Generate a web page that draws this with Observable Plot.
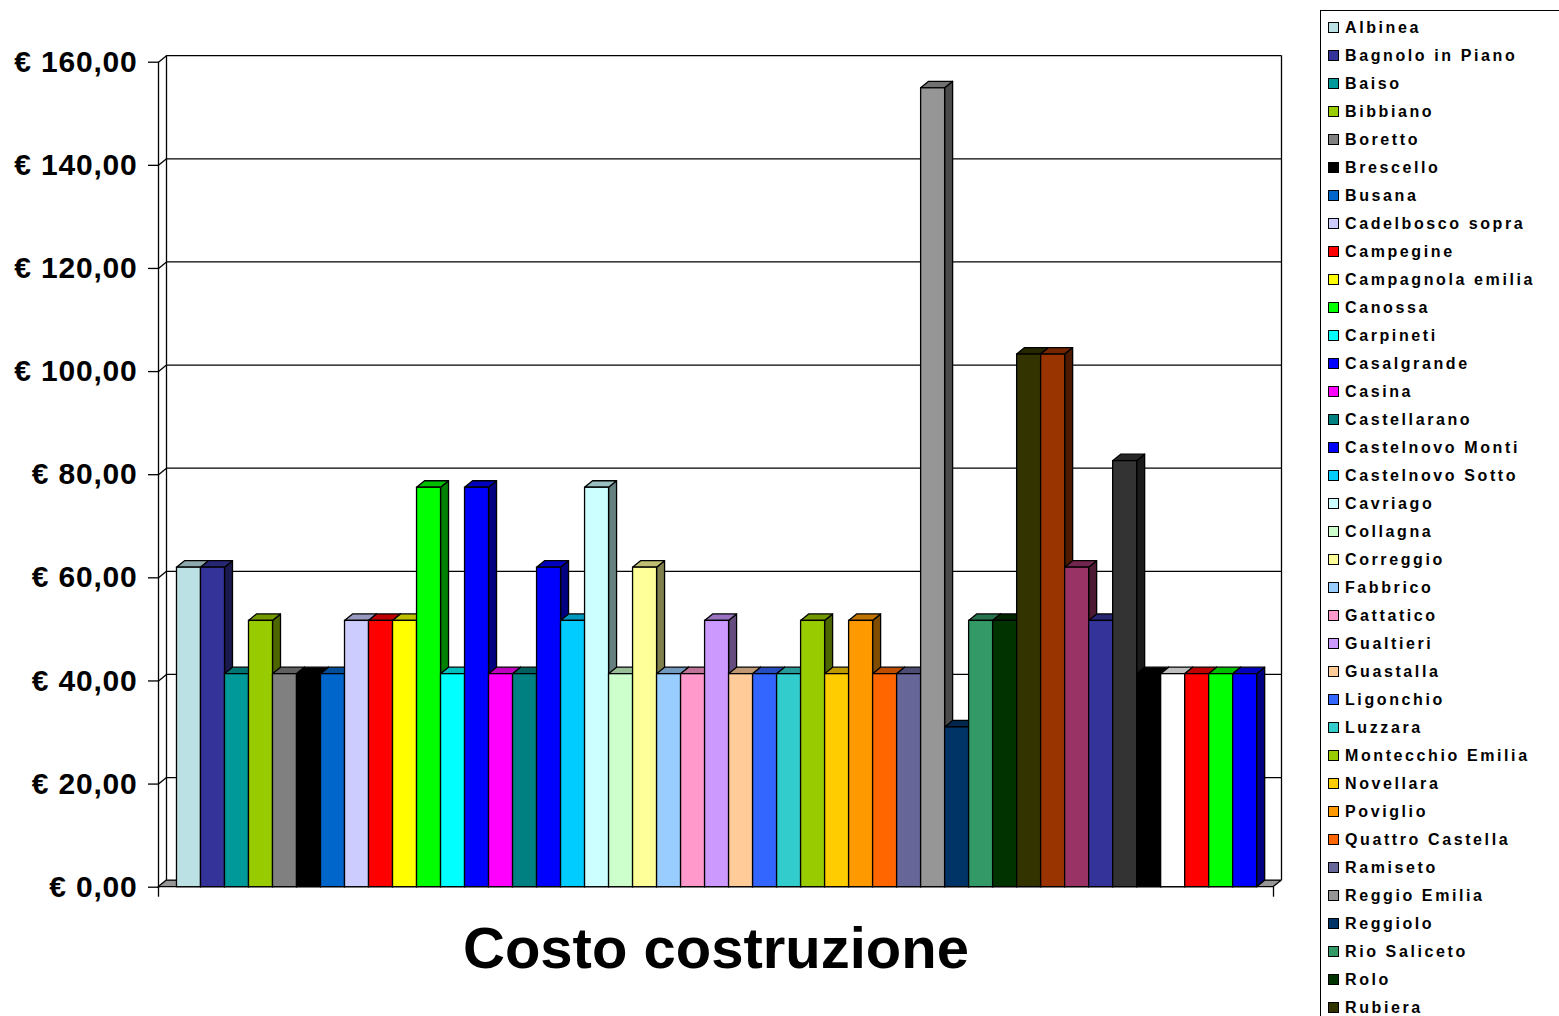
<!DOCTYPE html>
<html>
<head>
<meta charset="utf-8">
<script src="https://cdn.jsdelivr.net/npm/d3@7"></script>
<script src="https://cdn.jsdelivr.net/npm/@observablehq/plot@0.6"></script>
<style>
  html, body { margin: 0; padding: 0; background: #fff; overflow: hidden; }
  #chart { position: absolute; left: 0; top: 0; }
  #legend {
    position: absolute; left: 1320px; top: 10px; width: 300px; height: 1400px;
    border-left: 1.5px solid #000; border-top: 1.5px solid #000;
    font-family: "Liberation Sans", Arial, sans-serif; font-weight: bold;
    font-size: 16px; letter-spacing: 2.6px; color: #000;
  }
  .item { position: absolute; left: 7px; height: 20px; display: flex; align-items: center; white-space: nowrap; }
  .sw { width: 9px; height: 9px; border: 1px solid #000; margin-right: 6px; flex: none; }
  #chart svg [aria-label="y-axis tick label"] text { letter-spacing: 0.8px; font-weight: bold; }
</style>
</head>
<body>
<div id="chart"></div>
<div id="legend"></div>
<script>
const categories = [
  "Albinea", "Bagnolo in Piano", "Baiso", "Bibbiano", "Boretto", "Brescello", "Busana",
  "Cadelbosco sopra", "Campegine", "Campagnola emilia", "Canossa", "Carpineti", "Casalgrande",
  "Casina", "Castellarano", "Castelnovo Monti", "Castelnovo Sotto", "Cavriago", "Collagna",
  "Correggio", "Fabbrico", "Gattatico", "Gualtieri", "Guastalla", "Ligonchio", "Luzzara",
  "Montecchio Emilia", "Novellara", "Poviglio", "Quattro Castella", "Ramiseto", "Reggio Emilia",
  "Reggiolo", "Rio Saliceto", "Rolo", "Rubiera", "San Martino in Rio", "San Polo d'Enza",
  "Sant'Ilario d'Enza", "Scandiano", "Toano", "Vetto", "Vezzano sul Crostolo", "Viano", "Villa Minozzo"
];
const values = [
  61.97, 61.97, 41.32, 51.65, 41.32, 41.32, 41.32,
  51.65, 51.65, 51.65, 77.47, 41.32, 77.47,
  41.32, 41.32, 61.97, 51.65, 77.47, 41.32,
  61.97, 41.32, 41.32, 51.65, 41.32, 41.32, 41.32,
  51.65, 41.32, 51.65, 41.32, 41.32, 154.94,
  30.99, 51.65, 51.65, 103.29, 103.29, 61.97,
  51.65, 82.63, 41.32, 41.32, 41.32, 41.32, 41.32
];
const colors = [
  "#BCE1E4", "#333399", "#009999", "#99CC00", "#808080", "#000000", "#0066CC",
  "#CCCCFF", "#FF0000", "#FFFF00", "#00FF00", "#00FFFF", "#0000FF",
  "#FF00FF", "#008080", "#0000FF", "#00CCFF", "#CCFFFF", "#CCFFCC",
  "#FFFF99", "#99CCFF", "#FF99CC", "#CC99FF", "#FFCC99", "#3366FF", "#33CCCC",
  "#99CC00", "#FFCC00", "#FF9900", "#FF6600", "#666699", "#969696",
  "#003366", "#339966", "#003300", "#333300", "#993300", "#993366",
  "#333399", "#333333", "#000000", "#FFFFFF", "#FF0000", "#00FF00", "#0000FF"
];
const yTicks = [0, 20, 40, 60, 80, 100, 120, 140, 160];
const CATEGORY = "Costo costruzione";

// layout constants (pixels)
const W = 1300, H = 1000;
const LEFT = 158, RIGHT = 1273, TOP = 61.7, BOTTOM = 886.7;
const XLO = -0.77, XHI = 45.68, YMAX = 160;
const DEPTH_X = 8, DEPTH_Y = 6.5, TICK = 10;
const DXU = DEPTH_X * (XHI - XLO) / (RIGHT - LEFT);
const DYU = DEPTH_Y * YMAX / (BOTTOM - TOP);
const TICKU = TICK * YMAX / (BOTTOM - TOP);

const shade = (c, k) => { const r = d3.rgb(c); return d3.rgb(r.r * k, r.g * k, r.b * k).formatHex(); };

const bars = categories.map((name, i) => ({ name, i, v: values[i], c: colors[i] }));
const sides = bars.flatMap(b => [
  { i: b.i, x: b.i + 1, y1: 0, y2: b.v, c: shade(b.c, 0.5) },
  { i: b.i, x: b.i + 1 + DXU, y1: DYU, y2: b.v + DYU, c: shade(b.c, 0.5) }
]);
const tops = bars.flatMap(b => [
  { i: b.i, x: b.i, y1: b.v, y2: b.v, c: shade(b.c, 0.75) },
  { i: b.i, x: b.i + DXU, y1: b.v, y2: b.v + DYU, c: shade(b.c, 0.75) },
  { i: b.i, x: b.i + 1, y1: b.v, y2: b.v + DYU, c: shade(b.c, 0.75) },
  { i: b.i, x: b.i + 1 + DXU, y1: b.v + DYU, y2: b.v + DYU, c: shade(b.c, 0.75) }
]);
const floor = [
  { x: XLO, y1: 0, y2: 0 },
  { x: XLO + DXU, y1: 0, y2: DYU },
  { x: XHI, y1: 0, y2: DYU },
  { x: XHI + DXU, y1: DYU, y2: DYU }
];

const fmt = d => "€ " + d.toFixed(2).replace(".", ",");
const SW = 1.3;

const chart = Plot.plot({
  width: W, height: H,
  marginLeft: LEFT, marginRight: W - RIGHT, marginTop: TOP, marginBottom: H - BOTTOM,
  x: { domain: [XLO, XHI], axis: null },
  y: { domain: [0, YMAX], axis: null },
  color: { type: "identity" },
  style: { fontFamily: "'Liberation Sans', Arial, sans-serif", fontWeight: "bold", color: "#000", background: "#fff", overflow: "visible" },
  marks: [
    Plot.ruleY(yTicks, { y: d => d + DYU, x1: XLO + DXU, x2: XHI + DXU, stroke: "#000", strokeWidth: SW }),
    Plot.link(yTicks, { x1: XLO, y1: d => d, x2: XLO + DXU, y2: d => d + DYU, stroke: "#000", strokeWidth: SW }),
    Plot.ruleX([XLO], { y1: 0, y2: YMAX, stroke: "#000", strokeWidth: SW }),
    Plot.ruleX([XLO + DXU], { y1: DYU, y2: YMAX + DYU, stroke: "#000", strokeWidth: SW }),
    Plot.ruleX([XHI + DXU], { y1: DYU, y2: YMAX + DYU, stroke: "#000", strokeWidth: SW }),
    Plot.areaY(floor, { x: "x", y1: "y1", y2: "y2", fill: "#969696", stroke: "#000", strokeWidth: SW }),
    Plot.ruleX([XLO, XHI], { y1: 0, y2: -TICKU, stroke: "#000", strokeWidth: SW }),
    Plot.axisY(yTicks, { anchor: "left", tickSize: 10, tickPadding: 11, tickFormat: fmt, fontSize: 30, fontWeight: "bold", label: null, strokeWidth: SW }),
    Plot.areaY(sides, { x: "x", y1: "y1", y2: "y2", z: "i", fill: "c", stroke: "#000", strokeWidth: SW }),
    Plot.areaY(tops, { x: "x", y1: "y1", y2: "y2", z: "i", fill: "c", stroke: "#000", strokeWidth: SW }),
    Plot.rect(bars, { x1: "i", x2: d => d.i + 1, y1: 0, y2: "v", fill: "c", stroke: "#000", strokeWidth: SW }),
    Plot.text([CATEGORY], { x: (XLO + XHI) / 2, y: 0, dy: 62, text: d => d, fontSize: 58, fontWeight: "bold" })
  ]
});
document.getElementById("chart").appendChild(chart);

// legend: only the entries that fit in the window, as in the reference
const legend = document.getElementById("legend");
categories.forEach((name, i) => {
  const center = 26.7 + 28 * i;
  if (center > 1008) return;
  const it = document.createElement("div");
  it.className = "item";
  it.style.top = (center - 10 - 10) + "px";
  const sw = document.createElement("span");
  sw.className = "sw";
  sw.style.background = colors[i];
  const tx = document.createElement("span");
  tx.textContent = name;
  it.appendChild(sw); it.appendChild(tx);
  legend.appendChild(it);
});
</script>
</body>
</html>
